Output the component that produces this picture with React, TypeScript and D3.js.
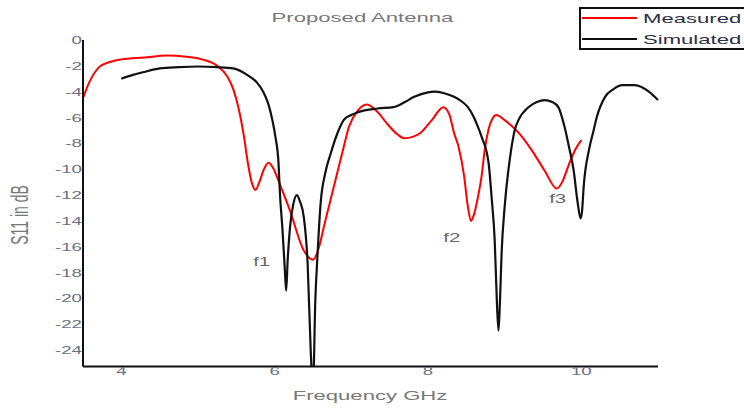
import React from "react";
import * as d3 from "d3";

const measuredFreq = [3.5,3.58,3.71,3.85,4.0,4.3,4.6,4.85,5.05,5.25,5.38,5.46,5.53,5.6,5.65,5.7,5.75,5.8,5.86,5.92,5.98,6.05,6.2,6.38,6.5,6.58,6.64,6.77,6.9,6.97,7.08,7.2,7.33,7.47,7.6,7.69,7.8,7.9,8.05,8.2,8.28,8.34,8.4,8.47,8.52,8.56,8.6,8.65,8.7,8.74,8.79,8.84,8.89,9.0,9.1,9.2,9.35,9.52,9.68,9.75,9.84,9.92,10.0];
const measuredDb = [-4.5,-3.3,-2.1,-1.7,-1.5,-1.35,-1.2,-1.3,-1.5,-2.0,-2.8,-3.8,-5.3,-7.5,-9.5,-11.0,-11.6,-11.0,-10.0,-9.5,-9.9,-10.9,-13.2,-16.3,-17.0,-16.0,-14.5,-11.4,-8.3,-6.7,-5.5,-5.0,-5.5,-6.5,-7.3,-7.6,-7.5,-7.2,-6.2,-5.2,-5.8,-7.2,-8.3,-10.5,-12.9,-14.0,-13.5,-12.2,-10.5,-8.5,-6.9,-6.1,-5.8,-6.2,-6.7,-7.3,-8.5,-10.1,-11.5,-11.0,-9.6,-8.5,-7.75];

const simulatedFreq = [4.0,4.15,4.28,4.5,4.75,5.0,5.25,5.46,5.64,5.77,5.85,5.92,5.97,6.01,6.05,6.07,6.1,6.13,6.15,6.17,6.2,6.24,6.29,6.33,6.38,6.43,6.47,6.5,6.53,6.56,6.6,6.66,6.73,6.82,6.9,7.0,7.08,7.34,7.55,7.7,7.82,8.0,8.08,8.2,8.34,8.45,8.52,8.6,8.65,8.7,8.79,8.83,8.87,8.9,8.92,8.94,8.96,9.0,9.07,9.13,9.18,9.31,9.42,9.52,9.62,9.7,9.78,9.84,9.9,9.95,9.99,10.01,10.03,10.1,10.16,10.2,10.31,10.42,10.53,10.7,10.88,11.0];
const simulatedDb = [-3.0,-2.7,-2.5,-2.2,-2.1,-2.05,-2.1,-2.2,-2.7,-3.3,-4.0,-5.0,-6.2,-7.5,-9.5,-12.0,-14.5,-17.5,-19.4,-17,-14.5,-12.8,-12.0,-12.5,-13.7,-17.3,-24,-27,-20.2,-16.5,-12.6,-10.3,-8.8,-7.2,-6.2,-5.8,-5.6,-5.3,-5.2,-4.8,-4.4,-4.05,-4.0,-4.1,-4.4,-4.8,-5.2,-6.0,-6.7,-7.5,-9.5,-12.2,-15.5,-20.5,-22.5,-20,-16.5,-12.9,-9.1,-7.0,-6.2,-5.2,-4.8,-4.65,-4.8,-5.2,-6.7,-8.3,-10.1,-12.5,-13.8,-13.2,-11.4,-8.5,-7.0,-6.0,-4.4,-3.8,-3.5,-3.5,-4.0,-4.65];

const xTicks = [4, 6, 8, 10];
const yTicks = [0, -2, -4, -6, -8, -10, -12, -14, -16, -18, -20, -22, -24];
const annotations = [
  { label: "f1", f: 5.72, db: -17.5 },
  { label: "f2", f: 8.2, db: -15.6 },
  { label: "f3", f: 9.58, db: -12.6 },
];
const seriesNames = ["Measured", "Simulated"];
const seriesColors = ["#ff0000", "#111111"];

const SX = 1.7;
const FONT = "'Liberation Sans', Arial, sans-serif";

function SText({ x, y, size, fill, anchor = "start", rotate = 0, children, baseline }: any) {
  return (
    <g transform={`translate(${x},${y}) scale(${SX},1)${rotate ? ` rotate(${rotate})` : ""}`}>
      <text
        x={0}
        y={0}
        fontSize={size}
        fill={fill}
        textAnchor={anchor}
        fontFamily={FONT}
        dominantBaseline={baseline}
      >
        {children}
      </text>
    </g>
  );
}

export default function App() {
  const W = 744, H = 409;
  const left = 83, right = 658, top = 40, bottom = 366.5;
  const x = d3.scaleLinear().domain([3.5, 11]).range([left, right]);
  const y = d3.scaleLinear().domain([-25.27, 0]).range([bottom, top]);

  const line = d3
    .line<[number, number]>()
    .x((d) => x(d[0]))
    .y((d) => y(d[1]))
    .curve(d3.curveMonotoneX);

  const measured = measuredFreq.map((f, i) => [f, measuredDb[i]] as [number, number]);
  const simulated = simulatedFreq.map((f, i) => [f, simulatedDb[i]] as [number, number]);

  const tickColor = "#6b7080";
  const labelColor = "#777777";

  return (
    <svg width={W} height={H} style={{ position: "absolute", left: 0, top: 0, background: "#fff" }}>
      <defs>
        <clipPath id="plot">
          <rect x={left} y={0} width={right - left + 10} height={bottom - 0} />
        </clipPath>
      </defs>
      <g clipPath="url(#plot)">
        <path d={line(measured) || ""} fill="none" stroke={seriesColors[0]} strokeWidth={2} />
        <path d={line(simulated) || ""} fill="none" stroke={seriesColors[1]} strokeWidth={2.2} />
      </g>

      {/* axes */}
      <line x1={left} x2={left} y1={top} y2={bottom} stroke="#111" strokeWidth={2} />
      <line x1={left} x2={right} y1={bottom} y2={bottom} stroke="#111" strokeWidth={2} />

      {yTicks.map((t) => (
        <SText key={t} x={left - 1} y={y(t) + 4} size={11} fill={tickColor} anchor="end">
          {t}
        </SText>
      ))}
      {xTicks.map((t) => (
        <SText key={t} x={x(t)} y={bottom + 8.5} size={11} fill={tickColor} anchor="middle">
          {t}
        </SText>
      ))}

      <SText x={(left + right) / 2 - 8} y={22} size={13} fill={labelColor} anchor="middle">
        Proposed Antenna
      </SText>
      <SText x={370} y={400} size={13} fill={labelColor} anchor="middle">
        Frequency GHz
      </SText>
      <SText x={28} y={215} size={14} fill={labelColor} anchor="middle" rotate={-90}>
        S11 in dB
      </SText>

      {annotations.map((a) => (
        <SText key={a.label} x={x(a.f)} y={y(a.db)} size={12} fill="#666" anchor="start">
          {a.label}
        </SText>
      ))}

      {/* legend */}
      <rect x={580} y={8} width={200} height={41} fill="#fff" stroke="#111" strokeWidth={2} />
      {seriesNames.map((n, i) => (
        <g key={n}>
          <line x1={582} x2={637} y1={18 + i * 21} y2={18 + i * 21} stroke={seriesColors[i]} strokeWidth={2.2} />
          <SText x={643} y={18 + i * 21 + 5} size={13} fill="#2a2f45" anchor="start">
            {n}
          </SText>
        </g>
      ))}
    </svg>
  );
}
